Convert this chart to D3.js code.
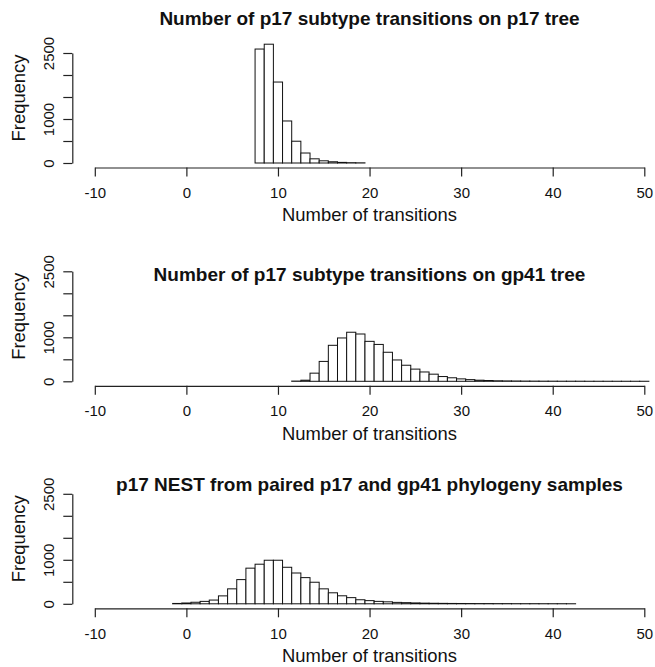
<!DOCTYPE html>
<html>
<head>
<meta charset="utf-8">
<script src="https://cdn.jsdelivr.net/npm/d3@7"></script>
<style>
  body { margin: 0; background: #fff; }
  svg text { font-family: "Liberation Sans", Arial, Helvetica, sans-serif; fill: #111; }
</style>
</head>
<body>
<div id="chart"></div>
<script>
// Số lần chuyển đổi: mỗi bin rộng 1, tâm tại số nguyên
const p17Start = 8;   // bin đầu tiên [7.5, 8.5]
const p17Counts = [2590, 2700, 1840, 955, 495, 227, 95, 50, 28, 14, 7, 4];

const gp41Start = 12; // [11.5, 12.5]
const gp41Counts = [5, 25, 185, 452, 818, 985, 1115, 1075, 908, 838, 660, 485, 365, 277,
  212, 162, 108, 80, 55, 38, 25, 18, 12, 9, 7, 5, 4, 3, 3, 2, 2, 2, 1, 1, 1, 1, 1, 1, 1];

const nestStart = -1; // [-1.5, -0.5]
const nestCounts = [8, 18, 35, 55, 85, 180, 340, 550, 810, 900, 990, 990, 830, 700, 595,
  490, 340, 250, 182, 140, 92, 72, 55, 45, 32, 26, 20, 15, 12, 10, 8, 7, 6, 5, 5, 4, 4,
  3, 3, 3, 2, 2, 2, 1];

const titles = [
  "Number of p17 subtype transitions on p17 tree",
  "Number of p17 subtype transitions on gp41 tree",
  "p17 NEST from paired p17 and gp41 phylogeny samples"
];
const xTicks = [-10, 0, 10, 20, 30, 40, 50];
const yTicks = [0, 500, 1000, 1500, 2000, 2500];
const yTickLabels = [0, 1000, 2500];
const xLabel = "Number of transitions";
const yLabel = "Frequency";

const W = 655, H = 667;
const svg = d3.select("#chart").append("svg")
  .attr("width", W).attr("height", H);

const x = d3.scaleLinear().domain([-10, 50]).range([94.8, 644.3]);
const yAxisX = 72.3;

// vị trí từng panel (đo từ ảnh)
const panels = [
  { counts: p17Counts, start: p17Start, y0: 163, titleY: 18.3 },
  { counts: gp41Counts, start: gp41Start, y0: 381.3, titleY: 274.3 },
  { counts: nestCounts, start: nestStart, y0: 603.8, titleY: 484.7 }
];

panels.forEach((p, i) => {
  const g = svg.append("g");
  const y = d3.scaleLinear().domain([0, 2500]).range([p.y0, p.y0 - 110]);
  const bins = p.counts.map((c, k) => ({ x0: p.start + k - 0.5, x1: p.start + k + 0.5, c }));

  // Bars
  g.selectAll("rect")
    .data(bins)
    .enter()
    .append("rect")
      .attr("x", d => x(d.x0))
      .attr("y", d => y(d.c))
      .attr("width", d => x(d.x1) - x(d.x0))
      .attr("height", d => y(0) - y(d.c))
      .attr("fill", "#fff")
      .attr("stroke", "#111")
      .attr("stroke-width", 1);

  // X axis (đặt thấp hơn 0 khoảng 4%)
  const axisY = p.y0 + 4.5;
  const gx = g.append("g")
    .attr("transform", `translate(0,${axisY})`)
    .call(d3.axisBottom(x).tickValues(xTicks).tickSize(9).tickSizeOuter(0).tickPadding(11)
      .tickFormat(d => String(d)));
  gx.selectAll("path,line").attr("stroke", "#222").attr("stroke-width", 1.2);
  gx.selectAll("text").style("font-size", "15px").attr("fill", "#111");

  // Y axis
  const gy = g.append("g")
    .attr("transform", `translate(${yAxisX},0)`)
    .call(d3.axisLeft(y).tickValues(yTicks).tickSize(9).tickSizeOuter(0)
      .tickFormat(d => yTickLabels.includes(d) ? String(d) : ""));
  gy.selectAll("path,line").attr("stroke", "#222").attr("stroke-width", 1.2);
  gy.selectAll("text")
    .style("font-size", "15px")
    .attr("fill", "#111")
    .attr("x", null)
    .attr("text-anchor", "middle")
    .attr("dy", "0.35em")
    .attr("transform", `translate(${48.3 - yAxisX},0) rotate(-90)`);

  // Titles
  g.append("text")
    .attr("x", 369.5).attr("y", p.titleY)
    .attr("dy", "0.35em")
    .attr("text-anchor", "middle")
    .style("font-size", "19px")
    .style("font-weight", "bold")
    .text(titles[i]);

  g.append("text")
    .attr("x", 369.5).attr("y", axisY + 47.5)
    .attr("dy", "0.35em")
    .attr("text-anchor", "middle")
    .style("font-size", "18.4px")
    .text(xLabel);

  g.append("text")
    .attr("transform", `translate(18.3,${p.y0 - 65}) rotate(-90)`)
    .attr("dy", "0.35em")
    .attr("text-anchor", "middle")
    .style("font-size", "18.4px")
    .text(yLabel);
});
</script>
</body>
</html>
